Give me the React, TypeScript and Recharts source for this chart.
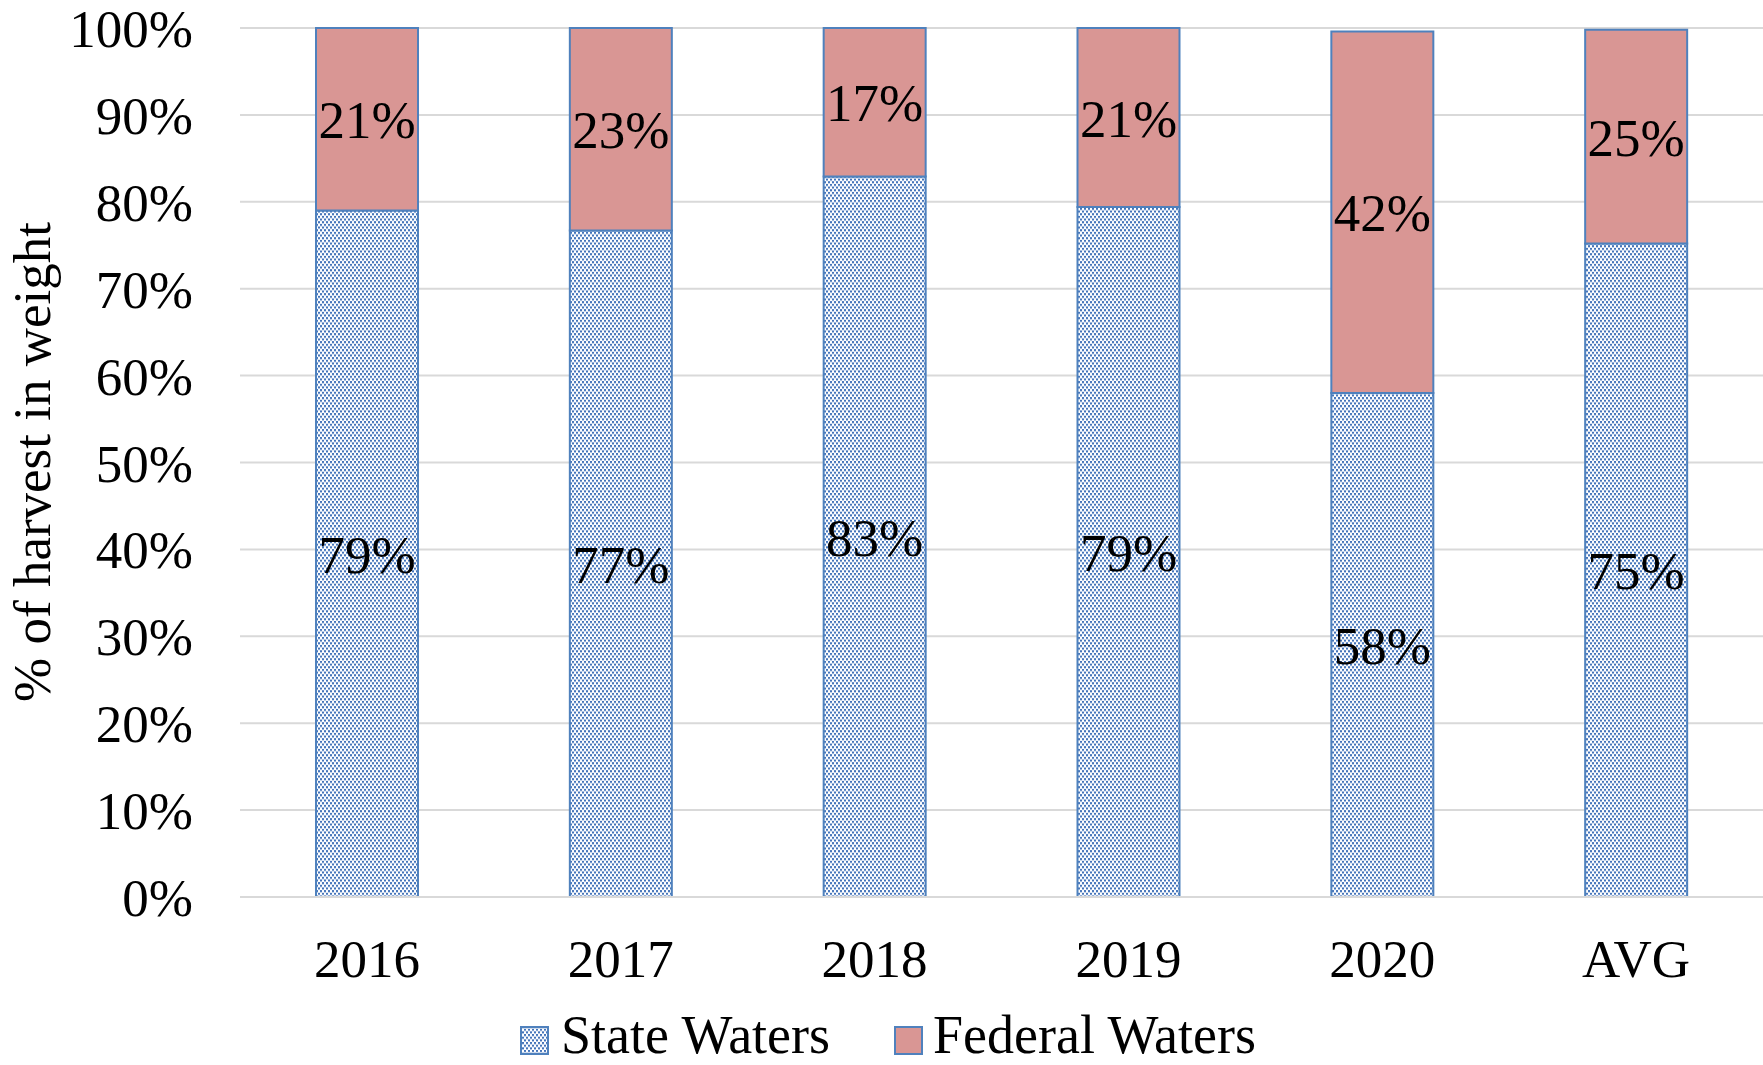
import { Bar, BarChart, CartesianGrid, LabelList, XAxis, YAxis } from 'recharts';

const years = ['2016', '2017', '2018', '2019', '2020', 'AVG'];
const stateWaters = [79.0, 76.7, 82.9, 79.4, 58.0, 75.2];
const federalWaters = [21.0, 23.3, 17.1, 20.6, 41.6, 24.6];
const yTicks = [0, 10, 20, 30, 40, 50, 60, 70, 80, 90, 100];

const FONT = '"Liberation Serif", "Times New Roman", serif';
const BLUE = '#4F81BD';
const DOT = '#4474BA';
const PINK = '#D99694';
const GRID = '#D9D9D9';

const rows = years.map((year, i) => ({ year, state: stateWaters[i], federal: federalWaters[i] }));

// staggered dot fill used by the State Waters bars and legend swatch
function DotPattern({ id }: { id: string }) {
  return (
    <pattern id={id} width="4" height="5.33" patternUnits="userSpaceOnUse">
      <rect width="4" height="5.33" fill="#fff" />
      <rect x="0" y="0" width="2" height="2.1" fill={DOT} />
      <rect x="2" y="2.67" width="2" height="2.1" fill={DOT} />
    </pattern>
  );
}

function YTick(props: any) {
  return (
    <text x={props.x - 47} y={props.y + 19} textAnchor="end" fontFamily={FONT} fontSize={53} fill="#000">
      {props.payload.value}%
    </text>
  );
}

function XTick(props: any) {
  return (
    <text x={props.x} y={props.y + 80} textAnchor="middle" fontFamily={FONT} fontSize={53} fill="#000">
      {props.payload.value}
    </text>
  );
}

function SegLabel(props: any) {
  const { x, y, width, height, value } = props;
  return (
    <text
      x={x + width / 2}
      y={y + height / 2 + 19}
      textAnchor="middle"
      fontFamily={FONT}
      fontSize={53}
      fill="#000"
    >
      {Math.round(value)}%
    </text>
  );
}

export default function App() {
  return (
    <div style={{ position: 'absolute', left: 0, top: 0, width: 1763, height: 1065, background: '#fff' }}>
      <BarChart
        width={1763}
        height={1065}
        data={rows}
        margin={{ top: 28, right: 0, bottom: 138, left: 0 }}
        barCategoryGap={0}
      >
        <defs>
          <DotPattern id="dots" />
        </defs>
        <CartesianGrid vertical={false} stroke={GRID} strokeWidth={2} />
        <XAxis
          dataKey="year"
          height={30}
          axisLine={{ stroke: GRID, strokeWidth: 2 }}
          tickLine={false}
          tickSize={0}
          tickMargin={0}
          tick={<XTick />}
          interval={0}
        />
        <YAxis
          width={240}
          domain={[0, 100]}
          ticks={yTicks}
          axisLine={false}
          tickLine={false}
          tickSize={0}
          tickMargin={0}
          tick={<YTick />}
          interval={0}
        />
        <Bar dataKey="state" stackId="a" fill="url(#dots)" stroke={BLUE} strokeWidth={2} barSize={102} isAnimationActive={false}>
          <LabelList dataKey="state" content={<SegLabel />} />
        </Bar>
        <Bar dataKey="federal" stackId="a" fill={PINK} stroke={BLUE} strokeWidth={2} barSize={102} isAnimationActive={false}>
          <LabelList dataKey="federal" content={<SegLabel />} />
        </Bar>
      </BarChart>
      <svg
        width={1763}
        height={1065}
        style={{ position: 'absolute', left: 0, top: 0, pointerEvents: 'none' }}
      >
        <defs>
          <DotPattern id="dotsLegend" />
        </defs>
        <text
          transform="translate(50,462) rotate(-90)"
          textAnchor="middle"
          fontFamily={FONT}
          fontSize={53}
          fill="#000"
        >
          % of harvest in weight
        </text>
        <rect x={521} y={1027} width={27} height={27} fill="url(#dotsLegend)" stroke={BLUE} strokeWidth={2} />
        <text x={561} y={1053} fontFamily={FONT} fontSize={54} fill="#000">
          State Waters
        </text>
        <rect x={895} y={1027} width={27} height={27} fill={PINK} stroke={BLUE} strokeWidth={2} />
        <text x={933} y={1053} fontFamily={FONT} fontSize={54} fill="#000">
          Federal Waters
        </text>
      </svg>
    </div>
  );
}
